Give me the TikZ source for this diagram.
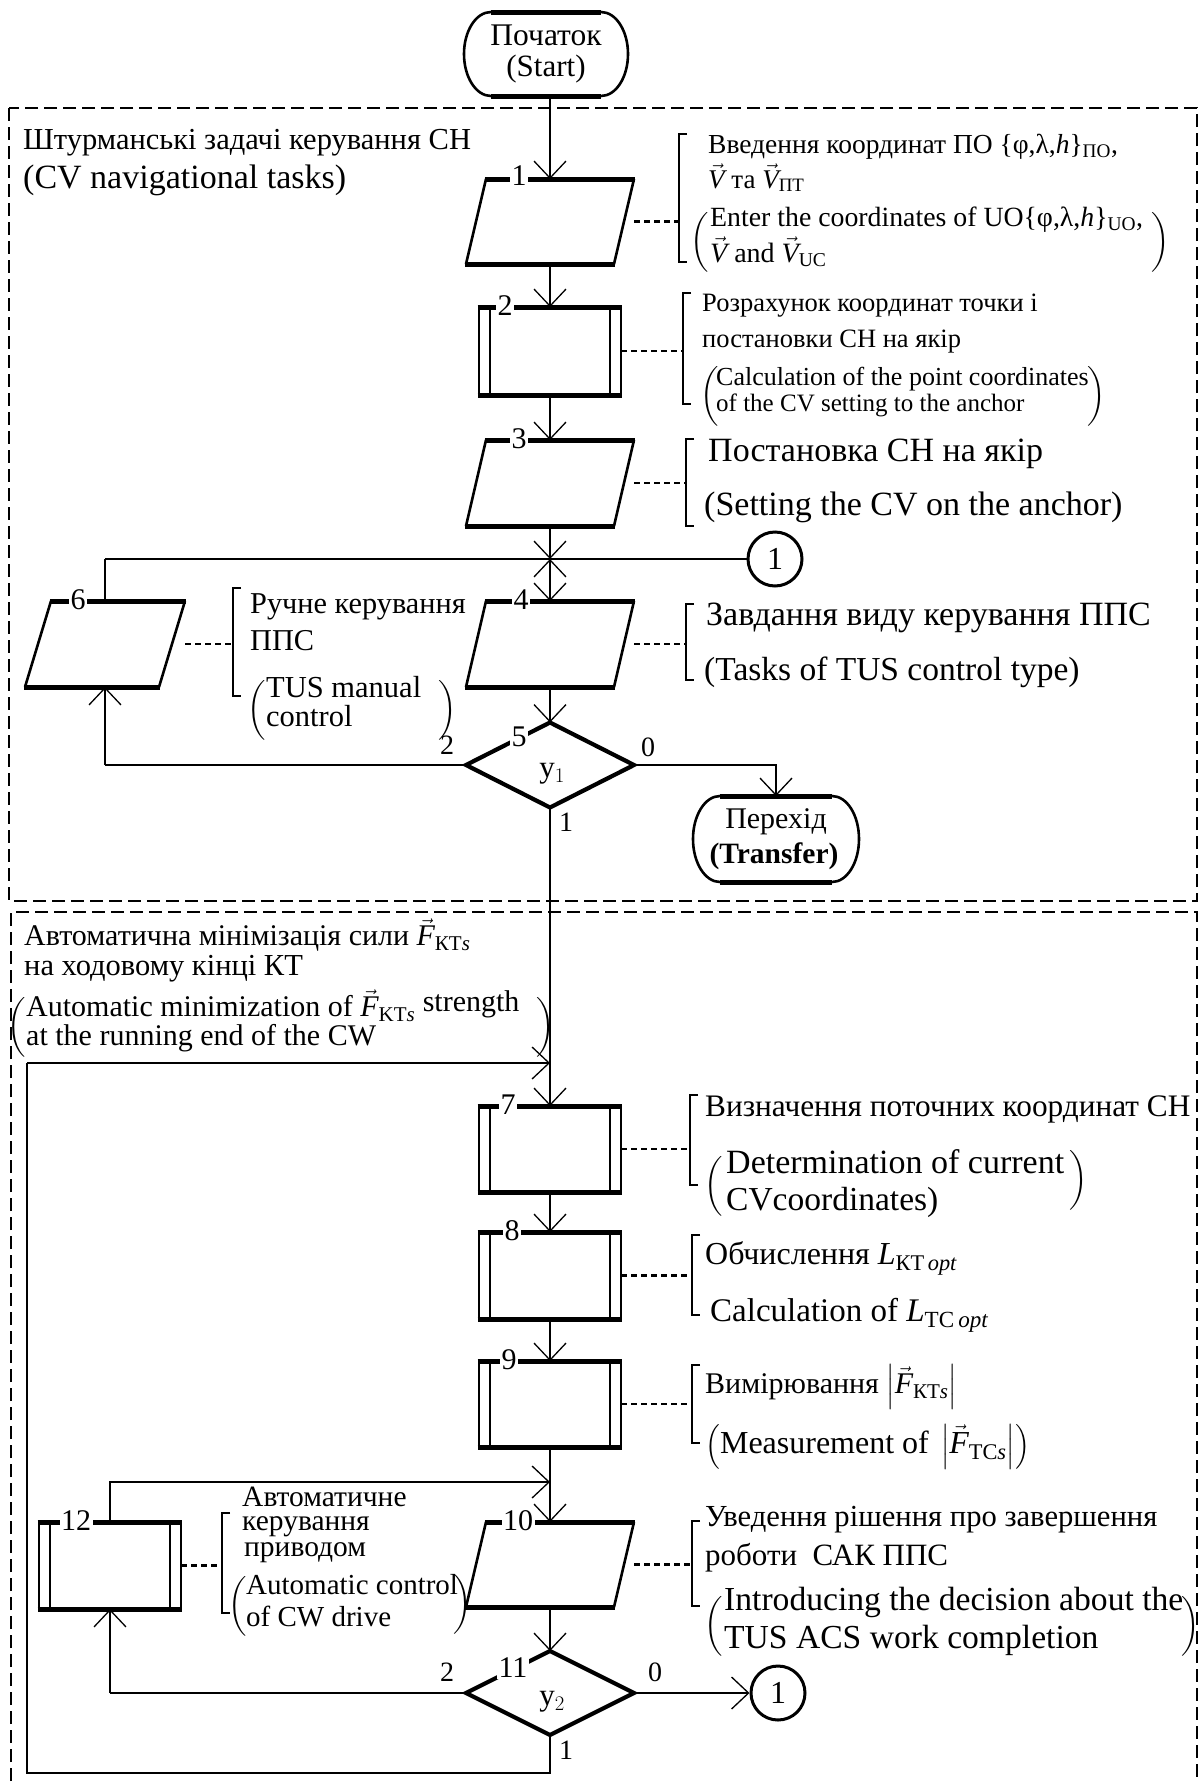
\documentclass[tikz,border=0pt]{standalone}
\usepackage{amsmath}
\usepackage{graphicx}
\usepackage{fontspec}
\setmainfont{Liberation Serif}
\usetikzlibrary{arrows.meta,calc}
\newcommand\fs[1]{\fontsize{#1}{#1}\selectfont}
\newcommand\vv[1]{\vec{\textit{#1}}}
\newcommand\lpar[1]{$\left(\vrule height #1pt depth #1pt width 0pt\right.$}
\newcommand\rpar[1]{$\left.\vrule height #1pt depth #1pt width 0pt\right)$}
\tikzset{
 side/.style={line width=2.6pt},
 thinside/.style={line width=1.4pt},
 edge/.style={line width=5pt},
 conn/.style={line width=1.6pt},
 hconn/.style={line width=2.6pt},
 arr/.style={-{Straight Barb[length=17pt,width=32pt,line width=1.3pt]}},
 ann/.style={line width=2.4pt, dash pattern=on 6pt off 4pt},
 brk/.style={line width=1.6pt},
 frame/.style={line width=2.4pt, dash pattern=on 13pt off 6pt},
 box/.style={rectangle, inner sep=0pt, outer sep=0pt},
 num/.style={fill=white, inner sep=1.5pt, font=\fs{30}},
 lab/.style={inner sep=0pt, font=\fs{28}},
 txt/.style={anchor=base west, inner sep=0pt},
 par/.style={inner sep=0pt, anchor=center},
}
\newcommand\ioshape[2]{%
 \draw[side] ($(#1.north west)+(#2,0)$) -- (#1.south west);
 \draw[side] (#1.north east) -- ($(#1.south east)+(-#2,0)$);
 \draw[edge] ($(#1.north west)+(#2-1.2,0)$) -- ($(#1.north east)+(1.2,0)$);
 \draw[edge] ($(#1.south west)+(-1.2,0)$) -- ($(#1.south east)+(-#2+1.2,0)$);
}
\newcommand\ppshape[1]{%
 \draw[side] (#1.north west) -- (#1.south west);
 \draw[side] (#1.north east) -- (#1.south east);
 \draw[thinside] ($(#1.north west)+(11,0)$) -- ($(#1.south west)+(11,0)$);
 \draw[thinside] ($(#1.north east)+(-11,0)$) -- ($(#1.south east)+(-11,0)$);
 \draw[edge] ($(#1.north west)+(-1.3,0)$) -- ($(#1.north east)+(1.3,0)$);
 \draw[edge] ($(#1.south west)+(-1.3,0)$) -- ($(#1.south east)+(1.3,0)$);
}
\newcommand\dshape[1]{\draw[line width=4.2pt] (#1.north) -- (#1.east) -- (#1.south) -- (#1.west) -- cycle;}
\newcommand\termshape[4]{%
 \pgfmathsetmacro\tXl{#1-#3}\pgfmathsetmacro\tXr{#1+#3}%
 \pgfmathsetmacro\tYt{#2-#4}\pgfmathsetmacro\tYb{#2+#4}%
 \pgfmathsetmacro\tIa{#1-#3+27}\pgfmathsetmacro\tIb{#1+#3-27}%
 \pgfmathsetmacro\tCa{#1-#3+12}\pgfmathsetmacro\tCb{#1+#3-12}%
 \pgfmathsetmacro\tUt{#2-0.55*#4}\pgfmathsetmacro\tUb{#2+0.55*#4}%
 \draw[side] (\tIb,\tYt) .. controls (\tCb,\tYt) and (\tXr,\tUt) .. (\tXr,#2) .. controls (\tXr,\tUb) and (\tCb,\tYb) .. (\tIb,\tYb);
 \draw[side] (\tIa,\tYt) .. controls (\tCa,\tYt) and (\tXl,\tUt) .. (\tXl,#2) .. controls (\tXl,\tUb) and (\tCa,\tYb) .. (\tIa,\tYb);
 \draw[edge] (\tIa,\tYt) -- (\tIb,\tYt);
 \draw[edge] (\tIa,\tYb) -- (\tIb,\tYb);
}
\newcommand\brak[3]{\draw[brk] ({#1+8},#2) -- (#1,#2) -- (#1,#3) -- ({#1+8},#3);}
\begin{document}
\begin{tikzpicture}[x=1pt,y=-1pt]
\fill[white] (0,0) rectangle (1199,1783);
\useasboundingbox (0,0) rectangle (1199,1783);

% frames
\draw[frame] (9,108) rectangle (1197,901);
\draw[frame] (11,1800) -- (11,912) -- (1197,912) -- (1197,1800);

% block placeholders
\node[box, minimum width=164pt, minimum height=84pt] (st) at (546,54) {};
\node[box, minimum width=168pt, minimum height=85pt] (b1) at (550,221.5) {};
\node[box, minimum width=142pt, minimum height=88pt] (b2) at (550,351) {};
\node[box, minimum width=168pt, minimum height=86pt] (b3) at (550,483) {};
\node[box, minimum width=168pt, minimum height=86pt] (b4) at (550,644) {};
\node[box, minimum width=160pt, minimum height=86pt] (b6) at (105,644) {};
\node[box, minimum width=168pt, minimum height=85pt] (d5) at (550,765) {};
\node[box, minimum width=166pt, minimum height=86pt] (tr) at (776,839) {};
\node[box, minimum width=142pt, minimum height=86pt] (b7) at (550,1149) {};
\node[box, minimum width=142pt, minimum height=87pt] (b8) at (550,1275.5) {};
\node[box, minimum width=142pt, minimum height=86pt] (b9) at (550,1404) {};
\node[box, minimum width=168pt, minimum height=85pt] (b10) at (550,1564.5) {};
\node[box, minimum width=142pt, minimum height=87pt] (b12) at (110,1565.5) {};
\node[box, minimum width=168pt, minimum height=84pt] (d11) at (550,1693) {};
\node[circle, draw, line width=3pt, minimum size=54pt, inner sep=0pt, font=\fs{32}] (c1) at (775,559) {1};
\node[circle, draw, line width=3pt, minimum size=54pt, inner sep=0pt, font=\fs{32}] (c2) at (778,1693) {1};

\coordinate (j1) at (550,559);
\coordinate (jb) at (550,578);
\coordinate (j2) at (550,1063);
\coordinate (j3) at (550,1482);
\coordinate (lb1) at (550,1773);
\coordinate (lb2) at (27,1773);
\coordinate (lt) at (27,1063);

% connectors
\draw[conn,arr] (st.south -| b1.north) -- (b1.north);
\draw[conn,arr] (b1.south) -- (b2.north);
\draw[conn,arr] (b2.south) -- (b3.north);
\draw[conn,arr] (b3.south) -- (j1);
\draw[conn,arr] (jb) -- (j1);
\draw[conn,arr] (j1) -- (b4.north);
\draw[hconn] (c1.west) -- (j1) -- (j1 -| b6.north);
\draw[conn] (j1 -| b6.north) -- (b6.north);
\draw[conn,arr] (b4.south) -- (d5.north);
\draw[hconn] (d5.west) -- (d5.west -| b6.south);
\draw[conn,arr] (d5.west -| b6.south) -- (b6.south);
\draw[conn,arr] (d5.east) -| (tr.north);
\draw[conn,arr] (d5.south) -- (b7.north);
\draw[hconn] (d11.south) -- (lb1) -- (lb2) -- (lt);
\draw[hconn,arr] (lt) -- (j2);
\draw[conn,arr] (b7.south) -- (b8.north);
\draw[conn,arr] (b8.south) -- (b9.north);
\draw[conn,arr] (b9.south) -- (b10.north);
\draw[conn,arr] (b12.north) |- (j3);
\draw[conn,arr] (b10.south) -- (d11.north);
\draw[hconn] (d11.west) -- (d11.west -| b12.south);
\draw[conn,arr] (d11.west -| b12.south) -- (b12.south);
\draw[hconn,arr] (d11.east) -- (c2.west);

% shapes
\termshape{546}{54}{82}{42}
\termshape{776}{839}{83}{43}
\ioshape{b1}{20}
\ppshape{b2}
\ioshape{b3}{20}
\ioshape{b4}{20}
\ioshape{b6}{26}
\dshape{d5}
\ppshape{b7}
\ppshape{b8}
\ppshape{b9}
\ioshape{b10}{20}
\ppshape{b12}
\dshape{d11}

% terminal texts
\node[inner sep=0pt, font=\fs{31.5}] (stt1) at (546,35) {Початок};
\node[inner sep=0pt, font=\fs{31}] (stt2) at (546,69) {(Start)};
\node[inner sep=0pt, font=\fs{30}] (trt1) at (776,822) {Перехід};
\node[inner sep=0pt, font=\fs{29.5}\bfseries] (trt2) at (774,856) {(Transfer)};
\node[inner sep=0pt, font=\fs{31}] (y1) at (552,774) {y$_1$};
\node[inner sep=0pt, font=\fs{31}] (y2) at (552,1702) {y$_2$};

% block numbers
\node[num] (n1) at (519,176) {1};
\node[num] (n2) at (505,306) {2};
\node[num] (n3) at (519,439) {3};
\node[num] (n4) at (521,600) {4};
\node[num] (n6) at (78,600) {6};
\node[num] (n5) at (519,737) {5};
\node[num] (n7) at (508,1105) {7};
\node[num] (n8) at (512,1231) {8};
\node[num] (n9) at (509,1360) {9};
\node[num] (n10) at (518,1521) {10};
\node[num] (n12) at (76,1521) {12};
\node[num] (n11) at (513,1668) {11};
\node[lab] (o52) at (447,745) {2};
\node[lab] (o50) at (648,747) {0};
\node[lab] (o51) at (566,822) {1};
\node[lab] (o112) at (447,1672) {2};
\node[lab] (o110) at (655,1672) {0};
\node[lab] (o111) at (566,1750) {1};

% titles
\node[txt,font=\fs{30.5}] (t1a) at (23,149) {Штурманські задачі керування СН};
\node[txt,font=\fs{34}] (t1b) at (23,188) {(CV navigational tasks)};
\node[txt,font=\fs{30}] (t2a) at (24,945) {Автоматична мінімізація сили $\vv{F}_{\text{КТ}\textit{s}}$};
\node[txt,font=\fs{30.5}] (t2b) at (24,975) {на ходовому кінці КТ};
\node[par,font=\fs{30}] (t2l) at (17,1028) {\lpar{24}};
\node[txt,font=\fs{30}] (t2c) at (26,1016) {Automatic minimization of $\vv{F}_{\text{KT}\textit{s}}$ \raisebox{5pt}{strength}};
\node[txt,font=\fs{30}] (t2d) at (26,1045) {at the running end of the CW};
\node[par,font=\fs{30}] (t2r) at (545,1028) {\rpar{24}};

% annotation 1
\coordinate (k1) at (679,221.5);
\draw[ann] (b1.east) -- (k1);
\brak{679}{134}{262}
\node[txt,font=\fs{27.5}] (a1a) at (708,153) {Введення координат ПО \{φ,λ,\textit{h}\}$_{\text{ПО}}$,};
\node[txt,font=\fs{27}] (a1b) at (708,188) {$\vv{V}$ та $\vv{V}_{\text{ПТ}}$};
\node[par,font=\fs{27}] (a1l) at (700,242) {\lpar{22}};
\node[txt,font=\fs{27.8}] (a1c) at (710,226) {Enter the coordinates of UO\{φ,λ,\textit{h}\}$_{\text{UO}}$,};
\node[txt,font=\fs{28}] (a1d) at (710,262) {$\vv{V}$ and $\vv{V}_{\text{UC}}$};
\node[par,font=\fs{27}] (a1r) at (1160,242) {\rpar{22}};

% annotation 2
\coordinate (k2) at (683,351);
\draw[ann] (b2.east) -- (k2);
\brak{683}{293}{404}
\node[txt,font=\fs{26.5}] (a2a) at (702,311) {Розрахунок координат точки і};
\node[txt,font=\fs{26.5}] (a2b) at (702,347) {постановки СН на якір};
\node[par,font=\fs{25}] (a2l) at (710,396) {\lpar{20}};
\node[txt,font=\fs{26}] (a2c) at (716,385) {Calculation of the point coordinates};
\node[txt,font=\fs{25}] (a2d) at (716,411) {of the CV setting to the anchor};
\node[par,font=\fs{25}] (a2r) at (1096,396) {\rpar{20}};

% annotation 3
\coordinate (k3) at (686,483);
\draw[ann] (b3.east) -- (k3);
\brak{686}{439}{526}
\node[txt,font=\fs{34}] (a3a) at (708,461) {Постановка СН на якір};
\node[txt,font=\fs{34}] (a3b) at (704,515) {(Setting the CV on the anchor)};

% annotation 4
\coordinate (k4) at (686,644);
\draw[ann] (b4.east) -- (k4);
\brak{686}{604}{680}
\node[txt,font=\fs{34}] (a4a) at (706,625) {Завдання виду керування ППС};
\node[txt,font=\fs{33.5}] (a4b) at (704,680) {(Tasks of TUS control type)};

% annotation 6
\coordinate (k6) at (233,644);
\draw[ann] (b6.east) -- (k6);
\brak{233}{588}{696}
\node[txt,font=\fs{30.3}] (a6a) at (250,613) {Ручне керування};
\node[txt,font=\fs{30.3}] (a6b) at (250,650) {ППС};
\node[par,font=\fs{30}] (a6l) at (257,710) {\lpar{22}};
\node[txt,font=\fs{30.5}] (a6c) at (266,697) {TUS manual};
\node[txt,font=\fs{30.5}] (a6d) at (266,726) {control};
\node[par,font=\fs{30}] (a6r) at (447,710) {\rpar{22}};

% annotation 7
\coordinate (k7) at (690,1149);
\draw[ann] (b7.east) -- (k7);
\brak{690}{1095}{1185}
\node[txt,font=\fs{31.3}] (a7a) at (705,1116) {Визначення поточних координат СН};
\node[par,font=\fs{32}] (a7l) at (714,1188) {\lpar{26}};
\node[txt,font=\fs{34}] (a7b) at (726,1173) {Determination of current};
\node[txt,font=\fs{33.5}] (a7c) at (726,1210) {CVcoordinates)};
\node[par,font=\fs{32}] (a7r) at (1078,1182) {\rpar{26}};

% annotation 8
\coordinate (k8) at (692,1275.5);
\draw[ann] (b8.east) -- (k8);
\brak{692}{1235}{1315}
\node[txt,font=\fs{32}] (a8a) at (705,1264) {Обчислення \textit{L}$_{\text{КТ}\,\textit{opt}}$};
\node[txt,font=\fs{33}] (a8b) at (710,1321) {Calculation of \textit{L}$_{\text{TC}\,\textit{opt}}$};

% annotation 9
\coordinate (k9) at (692,1404);
\draw[ann] (b9.east) -- (k9);
\brak{692}{1365}{1443}
\node[txt,font=\fs{30}] (a9a) at (705,1393) {Вимірювання $\left|\vv{F}_{\text{КТ}\textit{s}}\right|$};
\node[txt,font=\fs{32}] (a9b) at (705,1453) {$\left(\text{Measurement of }\left|\vv{F}_{\text{TC}\textit{s}}\right|\right)$};

% annotation 10
\coordinate (k10) at (692,1564.5);
\draw[ann] (b10.east) -- (k10);
\brak{692}{1521}{1606}
\node[txt,font=\fs{30.6}] (a10a) at (705,1526) {Уведення рішення про завершення};
\node[txt,font=\fs{31}] (a10b) at (705,1565) {роботи\ \ САК ППС};
\node[par,font=\fs{32}] (a10l) at (714,1628) {\lpar{26}};
\node[txt,font=\fs{33.6}] (a10c) at (724,1610) {Introducing the decision about the};
\node[txt,font=\fs{33.6}] (a10d) at (724,1648) {TUS ACS work completion};
\node[par,font=\fs{32}] (a10r) at (1190,1628) {\rpar{26}};

% annotation 12
\coordinate (k12) at (222,1565.5);
\draw[ann] (b12.east) -- (k12);
\brak{222}{1513}{1613}
\node[txt,font=\fs{29.5}] (a12a) at (242,1506) {Автоматичне};
\node[txt,font=\fs{29.5}] (a12b) at (242,1530) {керування};
\node[txt,font=\fs{29.5}] (a12c) at (244,1556) {приводом};
\node[par,font=\fs{29}] (a12l) at (238,1606) {\lpar{21}};
\node[txt,font=\fs{29}] (a12d) at (246,1594) {Automatic control};
\node[txt,font=\fs{29}] (a12e) at (246,1626) {of CW drive};
\node[par,font=\fs{29}] (a12r) at (462,1604) {\rpar{21}};
\end{tikzpicture}
\end{document}
